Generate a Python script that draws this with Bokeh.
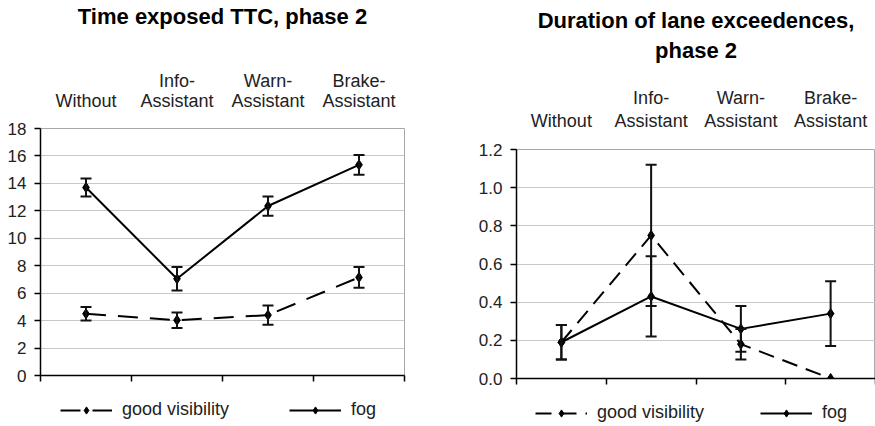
from bokeh.plotting import figure
from bokeh.models import (Range1d, FixedTicker, Whisker, TeeHead, ColumnDataSource,
                          Legend, LegendItem, PrintfTickFormatter)
from bokeh.core.properties import value
from bokeh.layouts import row, column
from bokeh.embed import file_html
from bokeh.resources import INLINE

categories = ["Without", "Info-\nAssistant", "Warn-\nAssistant", "Brake-\nAssistant"]
series_names = ["good visibility", "fog"]

ttc_title = "Time exposed TTC, phase 2"
ttc_good = [4.5, 4.03, 4.4, 7.15]
ttc_good_err = [0.5, 0.57, 0.7, 0.75]
ttc_fog = [13.7, 7.05, 12.35, 15.35]
ttc_fog_err = [0.65, 0.85, 0.7, 0.72]
ttc_yticks = [0, 2, 4, 6, 8, 10, 12, 14, 16, 18]

lane_title = "Duration of lane exceedences,\nphase 2"
lane_good = [0.19, 0.75, 0.18, 0.0]
lane_good_err = [0.09, 0.37, 0.08, 0.0]
lane_fog = [0.19, 0.43, 0.26, 0.34]
lane_fog_err = [0.09, 0.21, 0.12, 0.17]
lane_yticks = [0.0, 0.2, 0.4, 0.6, 0.8, 1.0, 1.2]

FONT = "Liberation Sans"
TXT = "#222222"


def bare(width, height, xr, yr, mb_left=0, mb_right=0):
    f = figure(width=width, height=height, output_backend="svg", toolbar_location=None,
               x_range=xr, y_range=yr, x_axis_type=None, y_axis_type=None,
               min_border_left=mb_left, min_border_right=mb_right,
               min_border_top=0, min_border_bottom=0)
    f.outline_line_color = None
    f.xgrid.grid_line_color = None
    f.ygrid.grid_line_color = None
    f.background_fill_color = "white"
    f.border_fill_color = "white"
    try:
        f.frame_align = False
    except Exception:
        pass
    return f


def make_chart(title_text, good, good_err, fog, fog_err, yticks, fmt, width,
               mb_left, mb_right, head_h, title_y, cat_y, frame_h, leg_h, leg_loc,
               leg_spacing, dash):
    n = len(categories)
    xs = [i + 0.5 for i in range(n)]

    # header: title and category labels
    h = bare(width, head_h, Range1d(0, n), Range1d(0, head_h), mb_left, mb_right)
    tlines = title_text.split("\n")
    h.text(x=[n / 2] * len(tlines), y=title_y[:len(tlines)], text=tlines,
           text_font=value(FONT), text_font_size="22px", text_font_style="bold",
           text_color="black", text_align="center", text_baseline="middle")
    split = [c.split("\n") for c in categories]
    cx, cy, ct = [], [], []
    for x, lines in zip(xs, split):
        ys = cat_y[-len(lines):]
        for line, y in zip(lines, ys):
            cx.append(x)
            cy.append(y)
            ct.append(line)
    h.text(x=cx, y=cy, text=ct, text_font=value(FONT), text_font_size="18px",
           text_color=TXT, text_align="center", text_baseline="middle")

    # chart
    mb_top, mb_bottom = 10, 24
    p = figure(width=width, height=mb_top + frame_h + mb_bottom, output_backend="svg",
               toolbar_location=None,
               x_range=Range1d(0, n), y_range=Range1d(yticks[0], yticks[-1]),
               min_border_left=mb_left, min_border_right=mb_right,
               min_border_top=mb_top, min_border_bottom=mb_bottom)
    try:
        p.frame_align = False
    except Exception:
        pass
    p.background_fill_color = "white"
    p.border_fill_color = "white"
    p.outline_line_color = "#a8a8a8"
    p.outline_line_width = 1

    xa = p.xaxis[0]
    xa.ticker = FixedTicker(ticks=list(range(n + 1)))
    xa.major_label_overrides = {i: "" for i in range(n + 1)}
    xa.major_label_standoff = 0
    xa.major_tick_out = 6
    xa.major_tick_in = 0
    xa.minor_tick_line_color = None
    xa.axis_line_color = "black"
    xa.axis_line_width = 1.5
    xa.major_tick_line_color = "black"
    xa.major_tick_line_width = 1.5

    ya = p.yaxis[0]
    ya.ticker = FixedTicker(ticks=yticks)
    if fmt:
        ya.formatter = PrintfTickFormatter(format=fmt)
    ya.major_label_text_font = FONT
    ya.major_label_text_font_size = "17px"
    ya.major_label_text_color = TXT
    ya.major_tick_out = 6
    ya.major_tick_in = 0
    ya.minor_tick_line_color = None
    ya.axis_line_color = "black"
    ya.axis_line_width = 1.5
    ya.major_tick_line_color = "black"
    ya.major_tick_line_width = 1.5
    ya.major_label_standoff = 8

    p.xgrid.grid_line_color = None
    p.ygrid.ticker = FixedTicker(ticks=yticks)
    p.ygrid.grid_line_color = "#c8c8c8"
    p.ygrid.grid_line_width = 1

    styles = [(series_names[0], good, good_err, dash),
              (series_names[1], fog, fog_err, "solid")]
    for name, vals, errs, ld in styles:
        rows = [(x, v, e) for x, v, e in zip(xs, vals, errs) if e > 0]
        src = ColumnDataSource(data=dict(x=[r[0] for r in rows],
                                         upper=[r[1] + r[2] for r in rows],
                                         lower=[r[1] - r[2] for r in rows]))
        w = Whisker(source=src, base="x", upper="upper", lower="lower",
                    line_color="#111111", line_width=2, level="glyph",
                    upper_head=TeeHead(size=11, line_width=2, line_color="#111111"),
                    lower_head=TeeHead(size=11, line_width=2, line_color="#111111"))
        p.add_layout(w)
        p.line(xs, vals, line_color="black", line_width=2, line_dash=ld)
        p.scatter(xs, vals, marker="diamond", size=10, fill_color="black",
                  line_color="black")

    # legend strip: key renderers carry the series data, kept outside this strip's view
    lg = bare(width, leg_h, Range1d(0, n), Range1d(-2, -1))
    items = []
    for name, vals, errs, ld in styles:
        lr = lg.line(xs, vals, line_color="black", line_width=2, line_dash=ld)
        sr = lg.scatter(xs, vals, marker="diamond", size=9, fill_color="black",
                        line_color="black")
        items.append(LegendItem(label=name, renderers=[lr, sr]))
    leg = Legend(items=items, orientation="horizontal", location=leg_loc,
                 label_text_font=FONT, label_text_font_size="18px", label_text_color=TXT,
                 glyph_width=52, glyph_height=18, label_standoff=10, spacing=leg_spacing,
                 padding=0, margin=0, border_line_color=None, background_fill_alpha=0)
    lg.add_layout(leg)
    return column(h, p, lg)


c1 = make_chart(ttc_title, ttc_good, ttc_good_err, ttc_fog, ttc_fog_err, ttc_yticks, None,
                440, 40, 36, 118, [102], [38, 18], 247, 27, (60, 6), 60, "20 12")
c2 = make_chart(lane_title, lane_good, lane_good_err, lane_fog, lane_fog_err, lane_yticks,
                "%.1f", 435, 76, 0, 139, [119, 89], [42, 19], 229, 24, (95, 3), 56, "16 9")

layout = row(c1, c2)
open("out.html", "w").write(file_html(layout, INLINE))
